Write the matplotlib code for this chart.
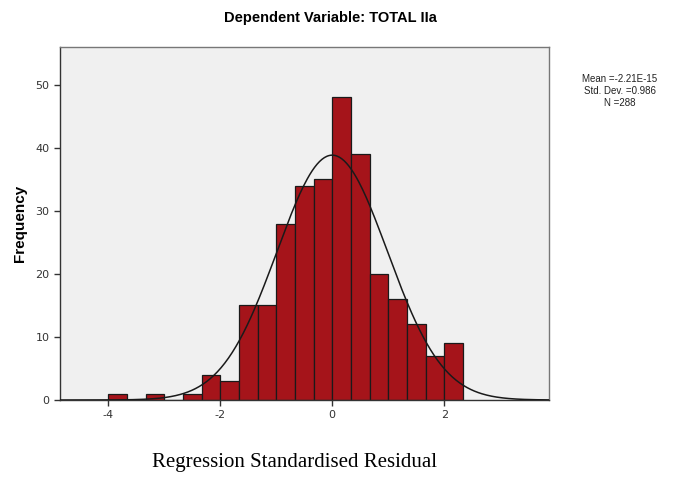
import numpy as np
import matplotlib.pyplot as plt

plt.rcParams["axes.unicode_minus"] = False

# histogram data read from the SPSS output (bin width 1/3)
bin_edges = np.arange(-12, 8) / 3.0  # -4.0 ... 2.333
counts = [1, 0, 1, 0, 1, 4, 3, 15, 15, 28, 34, 35, 48, 39, 20, 16, 12, 7, 9]
mean = -2.21e-15
std = 0.986
n = 288

fig = plt.figure(figsize=(6.87, 4.78), dpi=100)
ax = fig.add_axes([60 / 687, 1 - 400 / 478, 489 / 687, 353 / 478])
ax.set_facecolor("#F0F0F0")

lefts = bin_edges[:-1]
width = bin_edges[1] - bin_edges[0]
ax.bar(lefts, counts, width=width, align="edge", color="#A5141A",
       edgecolor="#1a1a1a", linewidth=0.9, zorder=2)

# normal curve scaled to the histogram
xs = np.linspace(-4.86, 3.9, 400)
pdf = np.exp(-0.5 * ((xs - mean) / std) ** 2) / (std * np.sqrt(2 * np.pi))
ax.plot(xs, n * width * pdf, color="#1a1a1a", linewidth=1.1, zorder=3)

ax.set_xlim(-4.86, 3.87)
ax.set_ylim(0, 56)
ax.set_xticks([-4, -2, 0, 2])
ax.set_yticks([0, 10, 20, 30, 40, 50])
ax.tick_params(axis="both", labelsize=8, colors="#333333", length=4,
               width=1.0, direction="out")
for side in ["left", "bottom"]:
    ax.spines[side].set_color("#333333")
    ax.spines[side].set_linewidth(1.0)
for side in ["top", "right"]:
    ax.spines[side].set_color("#777777")
    ax.spines[side].set_linewidth(1.0)

ax.set_ylabel("Frequency", fontsize=11, fontweight="bold",
              family="Liberation Sans", labelpad=6)

fig.text(330 / 687, 1 - 18 / 478, "Dependent Variable: TOTAL IIa",
         ha="center", va="center", fontsize=10.5, fontweight="bold",
         family="Liberation Sans")
fig.text(295 / 687, 1 - 462 / 478, "Regression Standardised Residual",
         ha="center", va="center", fontsize=15, family="Liberation Serif")
fig.text(620 / 687, 1 - 91 / 478,
         "Mean =-2.21E-15\nStd. Dev. =0.986\nN =288",
         ha="center", va="center", fontsize=7, family="Liberation Sans",
         linespacing=1.3, color="#222222")

fig.savefig("out.png", dpi=100)
